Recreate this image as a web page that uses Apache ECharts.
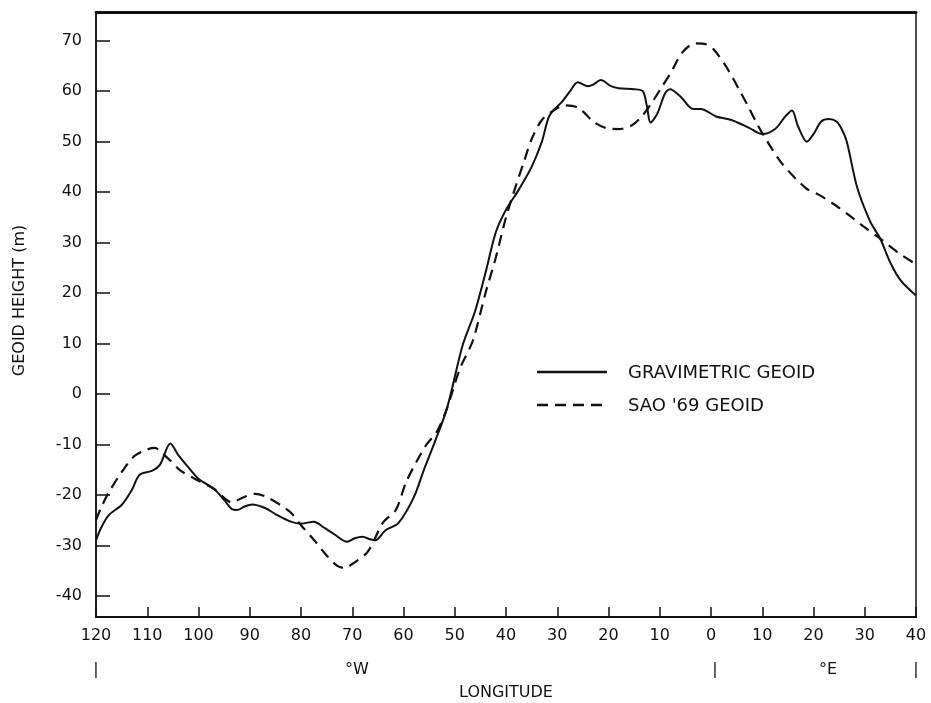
<!DOCTYPE html>
<html><head><meta charset="utf-8">
<script src="https://cdn.jsdelivr.net/npm/echarts@6/dist/echarts.min.js"></script>
<style>html,body{margin:0;padding:0;background:#fff}#c{width:931px;height:703px}</style>
</head><body><div id="c"></div>
<script>
// Longitude in degrees (negative = West), geoid height in metres
const gravLon = [-120,-119,-117.5,-115,-113,-111.5,-109,-107.5,-105.5,-104,-102,-100,-97,-95,-93.5,-92.5,-91,-89.5,-87,-85,-82,-80,-77.5,-75.5,-73.5,-71,-69.5,-68,-66.5,-65.5,-63.5,-61,-58,-56,-54,-51.5,-48.5,-46,-44,-42,-40,-37.5,-35,-33,-31.5,-29,-27.5,-26,-24,-23,-21.5,-19.5,-18,-15,-13.3,-12.5,-11.8,-10.5,-9,-8,-6,-3.5,-2,1,4,7.5,10,12.5,14.5,15.8,17,18.7,20,21.5,23,24.5,25.5,26.5,28.5,31,33,35,37,40];
const gravVal = [-29,-26.5,-24,-22,-19,-16,-15.2,-14,-9.8,-12,-14.5,-16.8,-18.8,-21,-22.8,-23,-22.3,-21.9,-22.6,-23.8,-25.3,-25.7,-25.3,-26.5,-27.8,-29.3,-28.6,-28.3,-28.8,-29,-27,-25.6,-20.5,-15,-9.8,-2.8,9.5,16.5,24,32,36.5,40.5,45,50,55.2,58,60,61.8,61,61.3,62.2,61,60.6,60.4,60,57,53.8,55.5,59.5,60.4,59,56.5,56.5,55,54.3,52.7,51.5,52.5,55,56.2,53,50,51.5,54,54.5,54,52.5,50,41,34.3,30.8,26,22.5,19.5];
const saoLon = [-120,-119,-117.5,-115,-112.5,-110,-108.5,-107,-105.5,-103.5,-100,-97,-95,-93.5,-91.5,-89,-87,-84,-82,-80,-77,-75,-73,-71.5,-70,-67,-64,-61.5,-59.5,-57.5,-55.5,-53.5,-51.5,-49,-46.5,-44,-42,-40,-38,-36.5,-35,-33,-31,-28.5,-26,-24.5,-23,-20.5,-18,-15.5,-13.5,-11.5,-9.5,-8,-5.5,-3,-1,0.5,3,5.5,7.5,9,11,14,18.5,21,24,27.5,30,33,36.5,40];
const saoVal = [-25,-22.5,-19.5,-15.5,-12.3,-11,-10.7,-11.8,-13.2,-15.2,-17.2,-18.8,-20.6,-21.5,-20.6,-19.8,-20.3,-22,-23.5,-26,-29.5,-32,-34,-34.5,-33.7,-31.3,-25.5,-23,-17.5,-13.5,-10,-7.5,-2.8,5,10.5,20,27,35,41.5,46,50.5,54.3,56,57.2,56.8,55.5,54,52.7,52.5,53.2,55,57.8,61,63.4,67.8,69.5,69.3,68.3,64.8,60.3,56.5,53.5,50,45.5,40.8,39.5,37.6,35,33,30.8,28,25.7];
const yTicks = [-40,-30,-20,-10,0,10,20,30,40,50,60,70];
const seriesNames = ['GRAVIMETRIC GEOID', "SAO '69 GEOID"];

const FONT = '"DejaVu Sans", "Liberation Sans", Arial, sans-serif';
const ink = '#111';
const chart = echarts.init(document.getElementById('c'), null, {renderer:'canvas'});
const txt = (x,y,t,size) => ({type:'text',x:x,y:y,silent:true,
  style:{text:t,font:size+'px '+FONT,fill:ink,textAlign:'center',textVerticalAlign:'middle'}});
chart.setOption({
  backgroundColor:'#fff',
  animation:false,
  grid:{left:96,right:15,top:12,bottom:86,show:true,borderColor:ink,borderWidth:1.5,
        outerBoundsMode:'none',containLabel:false},
  xAxis:[{
    type:'value', min:-120, max:40, interval:10,
    axisLine:{show:true,onZero:false,lineStyle:{color:ink,width:2}},
    axisTick:{show:true,inside:true,length:10,lineStyle:{color:ink,width:1.5}},
    axisLabel:{fontFamily:FONT,fontSize:16,color:ink,margin:11,formatter:v=>String(Math.abs(v))},
    splitLine:{show:false},
    name:'LONGITUDE', nameLocation:'middle', nameGap:68,
    nameTextStyle:{fontFamily:FONT,fontSize:16,color:ink}
  },{
    type:'value', min:-120, max:40, position:'top',
    axisLine:{show:true,onZero:false,lineStyle:{color:ink,width:3}},
    axisTick:{show:false}, axisLabel:{show:false}, splitLine:{show:false}
  }],
  yAxis:{
    type:'value', min:-44.2, max:75.7,
    axisLine:{show:true,onZero:false,lineStyle:{color:ink,width:1.5}},
    axisTick:{show:true,inside:true,length:14,customValues:yTicks,lineStyle:{color:ink,width:1.5}},
    axisLabel:{fontFamily:FONT,fontSize:16,color:ink,margin:14,customValues:yTicks},
    splitLine:{show:false},
    name:'GEOID HEIGHT (m)', nameLocation:'middle', nameGap:68, nameRotate:90,
    nameTextStyle:{fontFamily:FONT,fontSize:16,color:ink,padding:[0,0,0,28]}
  },
  graphic:[
    txt(96,670,'|',16), txt(357,670,'°W',16), txt(715,670,'|',16), txt(828,670,'°E',16), txt(916,670,'|',16),
    {type:'line',silent:true,shape:{x1:537,y1:372,x2:607,y2:372},style:{stroke:ink,lineWidth:2.5}},
    {type:'line',silent:true,shape:{x1:537,y1:405,x2:607,y2:405},style:{stroke:ink,lineWidth:2.5,lineDash:[11,7]}},
    {type:'text',x:628,y:373,silent:true,style:{text:seriesNames[0],font:'18px '+FONT,fill:ink,textVerticalAlign:'middle'}},
    {type:'text',x:628,y:406,silent:true,style:{text:seriesNames[1],font:'18px '+FONT,fill:ink,textVerticalAlign:'middle'}}
  ],
  series:[
    {name:seriesNames[0],type:'line',symbol:'none',smooth:0.3,
     lineStyle:{color:ink,width:2},itemStyle:{color:ink},
     data:gravLon.map((x,i)=>[x,gravVal[i]])},
    {name:seriesNames[1],type:'line',symbol:'none',smooth:0.3,
     lineStyle:{color:ink,width:2.2,type:[11,7]},itemStyle:{color:ink},
     data:saoLon.map((x,i)=>[x,saoVal[i]])}
  ]
});
</script></body></html>
